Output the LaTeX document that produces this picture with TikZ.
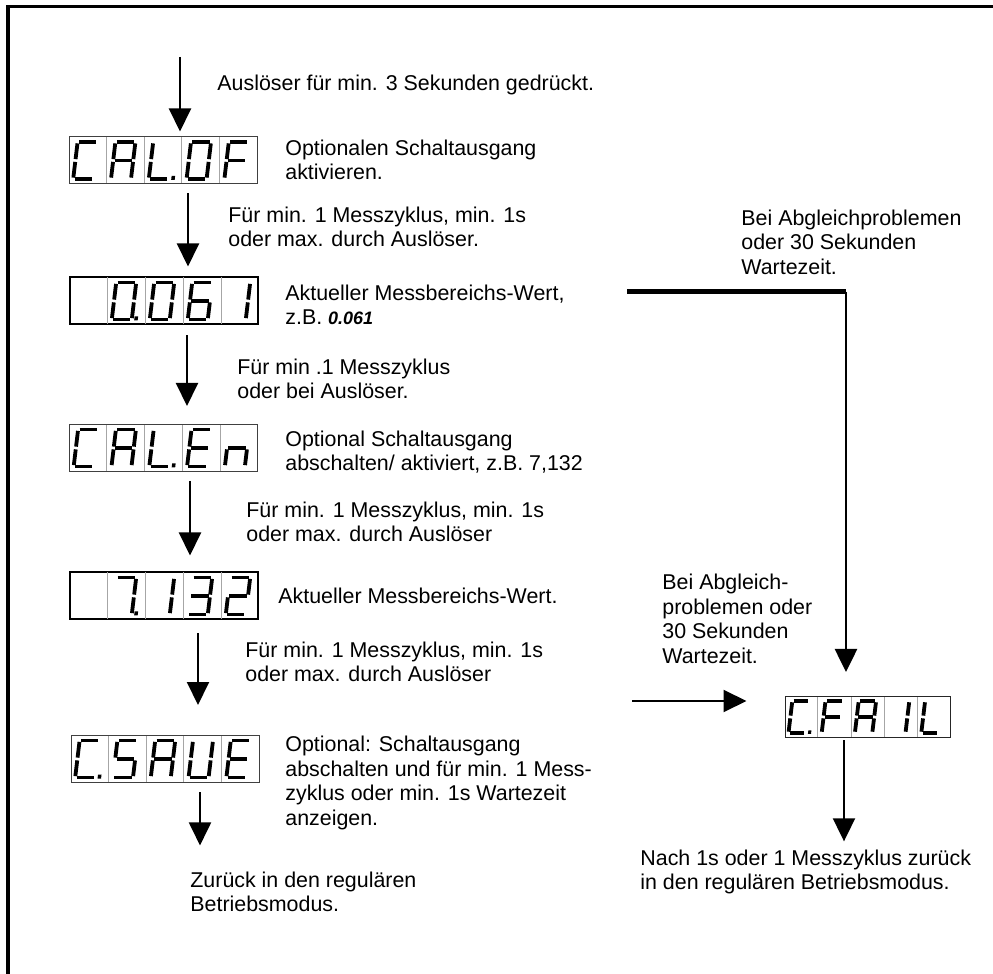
\documentclass[tikz,border=0pt]{standalone}
\usepackage{fontspec}
\setmainfont{Liberation Sans}
\usetikzlibrary{arrows.meta,positioning,calc}

\tikzset{
  flow/.style={line width=1pt,-{Triangle[length=11.5pt,width=11pt]}},
  lcdbig/.style={draw=black!75,line width=0.5pt,minimum width=94pt,minimum height=23.5pt,inner sep=0pt},
  lcdthick/.style={lcdbig,draw=black,line width=1pt},
  lcdsmall/.style={lcdbig,draw=black!85,minimum width=82.5pt,minimum height=20.5pt},
  lcdgrid/.style={draw=black!35,line width=0.4pt,shorten <=0.5pt,shorten >=0.5pt},
  segline/.style={line width=1.9pt,shorten <=0.7pt,shorten >=0.7pt},
  note/.style={anchor=west,align=left,inner sep=0pt,font=\fontsize{10.7}{12.3}\selectfont}
}

% seven segments, local units (px), y downwards
\newcommand\lcdsega{\draw[segline] (-10,-18.5) -- (10,-18.5);}
\newcommand\lcdsegb{\draw[segline] (10,-18.5) -- (10,0);}
\newcommand\lcdsegc{\draw[segline] (10,0) -- (10,18.5);}
\newcommand\lcdsegd{\draw[segline] (-10,18.5) -- (10,18.5);}
\newcommand\lcdsege{\draw[segline] (-10,0) -- (-10,18.5);}
\newcommand\lcdsegf{\draw[segline] (-10,-18.5) -- (-10,0);}
\newcommand\lcdsegg{\draw[segline] (-10,0) -- (10,0);}
\newcommand\lcdsegp{\fill (12.5,15.5) rectangle (16,19.5);}

% display: style, name, position, digit scale, cells
\newcommand{\lcd}[5]{%
  \node[#1] (#2) at (#3) {};
  \foreach \k in {1,...,4}
    \draw[lcdgrid] ($(#2.north west)!\k/5!(#2.north east)$) -- ($(#2.south west)!\k/5!(#2.south east)$);
  \foreach \cell [count=\i] in {#5} {
    \begin{scope}[shift={($(#2.west)!{(\i-0.5)/5}!(#2.east)$)}, xshift=-1pt, xslant=0.12, scale=#4]
      \foreach \s in \cell {\csname lcdseg\s\endcsname}
    \end{scope}
  }
}

\begin{document}
\begin{tikzpicture}[x=0.5pt,y=-0.5pt]
  \clip (0,0) rectangle (993,974);
  \draw[line width=1.5pt] (8,974) -- (8,7) -- (993,7);

  % displays
  \lcd{lcdbig}{calof}{163,160.5}{1}{{a,d,e,f},{a,b,c,e,f,g},{d,e,f,p},{a,b,c,d,e,f},{a,e,f,g}}
  \lcd{lcdthick}{zero}{164,301}{1}{{},{a,b,c,d,e,f,p},{a,b,c,d,e,f},{a,c,d,e,f,g},{b,c}}
  \lcd{lcdbig}{calen}{163.5,448}{1}{{a,d,e,f},{a,b,c,e,f,g},{d,e,f,p},{a,d,e,f,g},{c,e,g}}
  \lcd{lcdthick}{seven}{164,596}{1}{{},{a,b,c,p},{b,c},{a,b,c,d,g},{a,b,d,e,g}}
  \lcd{lcdbig}{save}{165,759}{1}{{a,d,e,f,p},{a,c,d,f,g},{a,b,c,e,f,g},{b,c,d,e,f},{a,d,e,f,g}}
  \lcd{lcdsmall}{fail}{867.5,717}{0.87}{{a,d,e,f,p},{a,e,f,g},{a,b,c,e,f,g},{b,c},{d,e,f}}

  % texts
  \node[note] (t0) at (217,85) {Auslöser für min. 3 Sekunden gedrückt.};
  \node[note] (t1) at (285,160) {Optionalen Schaltausgang\\aktivieren.};
  \node[note] (t2) at (228,227) {Für min. 1 Messzyklus, min. 1s\\oder max. durch Auslöser.};
  \node[note] (t3) at (285,305) {Aktueller Messbereichs-Wert,\\z.B. {\small\bfseries\itshape 0.061}};
  \node[note] (t4) at (237,379) {Für min .1 Messzyklus\\oder bei Auslöser.};
  \node[note] (t5) at (285,452) {Optional Schaltausgang\\abschalten/ aktiviert, z.B. 7,132};
  \node[note] (t6) at (246,522) {Für min. 1 Messzyklus, min. 1s\\oder max. durch Auslöser};
  \node[note] (t7) at (278,596) {Aktueller Messbereichs-Wert.};
  \node[note] (t8) at (245,662) {Für min. 1 Messzyklus, min. 1s\\oder max. durch Auslöser};
  \node[note] (t9) at (285,783) {Optional: Schaltausgang\\abschalten und für min. 1 Mess-\\zyklus oder min. 1s Wartezeit\\anzeigen.};
  \node[note] (zur) at (190,892) {Zurück in den regulären\\Betriebsmodus.};
  \node[note] (t11) at (741,242) {Bei Abgleichproblemen\\oder 30 Sekunden\\Wartezeit.};
  \node[note] (t12) at (662,619) {Bei Abgleich-\\problemen oder\\30 Sekunden\\Wartezeit.};
  \node[note] (nach) at (640,872) {Nach 1s oder 1 Messzyklus zurück\\in den regulären Betriebsmodus.};

  % main sequence
  \coordinate (start) at (180,57);
  \draw[flow, shorten >=2.5pt] (start) -- (start |- calof.north);
  \draw[flow, shorten <=4.5pt, shorten >=5pt] ([xshift=12.5pt]calof.south) -- ([xshift=12.5pt]calof.south |- zero.north);
  \draw[flow, shorten <=5pt, shorten >=9pt] ([xshift=11.5pt]zero.south) -- ([xshift=11.5pt]zero.south |- calen.north);
  \draw[flow, shorten <=4.5pt, shorten >=8pt] ([xshift=13.25pt]calen.south) -- ([xshift=13.25pt]calen.south |- seven.north);
  \draw[flow, shorten <=6.5pt, shorten >=15pt] ([xshift=17pt]seven.south) -- ([xshift=17pt]seven.south |- save.north);
  \draw[flow, shorten <=4.5pt, shorten >=13pt] ([xshift=17.5pt]save.south) -- ([xshift=17.5pt]save.south |- zur.north);

  % error paths
  \coordinate (errA) at (627,292);
  \coordinate (errB) at (846,292);
  \draw[line width=2.5pt] (errA) -- (errB);
  \draw[flow, line width=1.3pt, shorten >=12pt] (errB) -- (errB |- fail.north);
  \coordinate (errC) at (632,701);
  \draw[flow, shorten >=19pt] (errC) -- (errC -| fail.west);
  \draw[flow, shorten <=1pt, shorten >=4pt] ([xshift=-11.75pt]fail.south) -- ([xshift=-11.75pt]fail.south |- nach.north);
\end{tikzpicture}
\end{document}
